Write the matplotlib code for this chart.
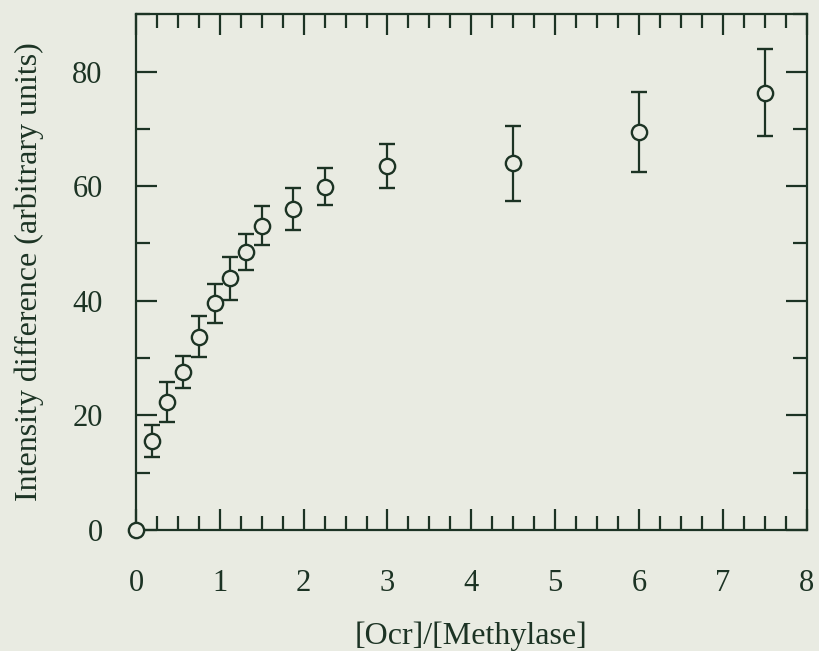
import numpy as np
import matplotlib
matplotlib.use('Agg')
import matplotlib.pyplot as plt
from matplotlib.ticker import MultipleLocator

# data
ratio = [0, 0.1875, 0.375, 0.5625, 0.75, 0.9375, 1.125, 1.3125, 1.5, 1.875, 2.25, 3.0, 4.5, 6.0, 7.5]
intensity = [0, 15.5, 22.3, 27.6, 33.7, 39.6, 43.9, 48.5, 53.1, 56.0, 59.9, 63.5, 64.0, 69.4, 76.3]
err = [0, 2.8, 3.5, 2.8, 3.6, 3.4, 3.8, 3.1, 3.4, 3.6, 3.2, 3.8, 6.5, 7.0, 7.6]

ink = '#1c3324'
paper = '#e9ebe2'

plt.rcParams['font.family'] = ['Liberation Serif', 'DejaVu Serif']

fig = plt.figure(figsize=(8.19, 6.51), dpi=100, facecolor=paper)
ax = fig.add_axes([0.166, 0.186, 0.819, 0.792])
ax.set_facecolor(paper)

ax.errorbar(ratio, intensity, yerr=err, fmt='o', color=ink, ecolor=ink,
            markerfacecolor=paper, markeredgecolor=ink, markersize=11,
            markeredgewidth=1.7, elinewidth=1.6, capsize=6, capthick=1.6,
            clip_on=False, zorder=3)

ax.set_xlim(0, 8)
ax.set_ylim(0, 90)
ax.xaxis.set_major_locator(MultipleLocator(1))
ax.xaxis.set_minor_locator(MultipleLocator(0.25))
ax.yaxis.set_major_locator(MultipleLocator(20))
ax.yaxis.set_minor_locator(MultipleLocator(10))

ax.tick_params(which='both', direction='in', top=True, right=True, color=ink,
               width=1.6, labelcolor=ink, labelsize=22)
ax.tick_params(which='major', length=15)
ax.tick_params(which='minor', length=10)
ax.tick_params(axis='x', which='major', pad=28)
ax.tick_params(axis='y', which='major', pad=24)
for s in ax.spines.values():
    s.set_color(ink)
    s.set_linewidth(1.6)

ax.set_xlabel('[Ocr]/[Methylase]', fontsize=23, color=ink, labelpad=17)
ax.set_ylabel('Intensity difference (arbitrary units)', fontsize=23, color=ink, labelpad=20)

fig.savefig('out.png', dpi=100, facecolor=paper)
